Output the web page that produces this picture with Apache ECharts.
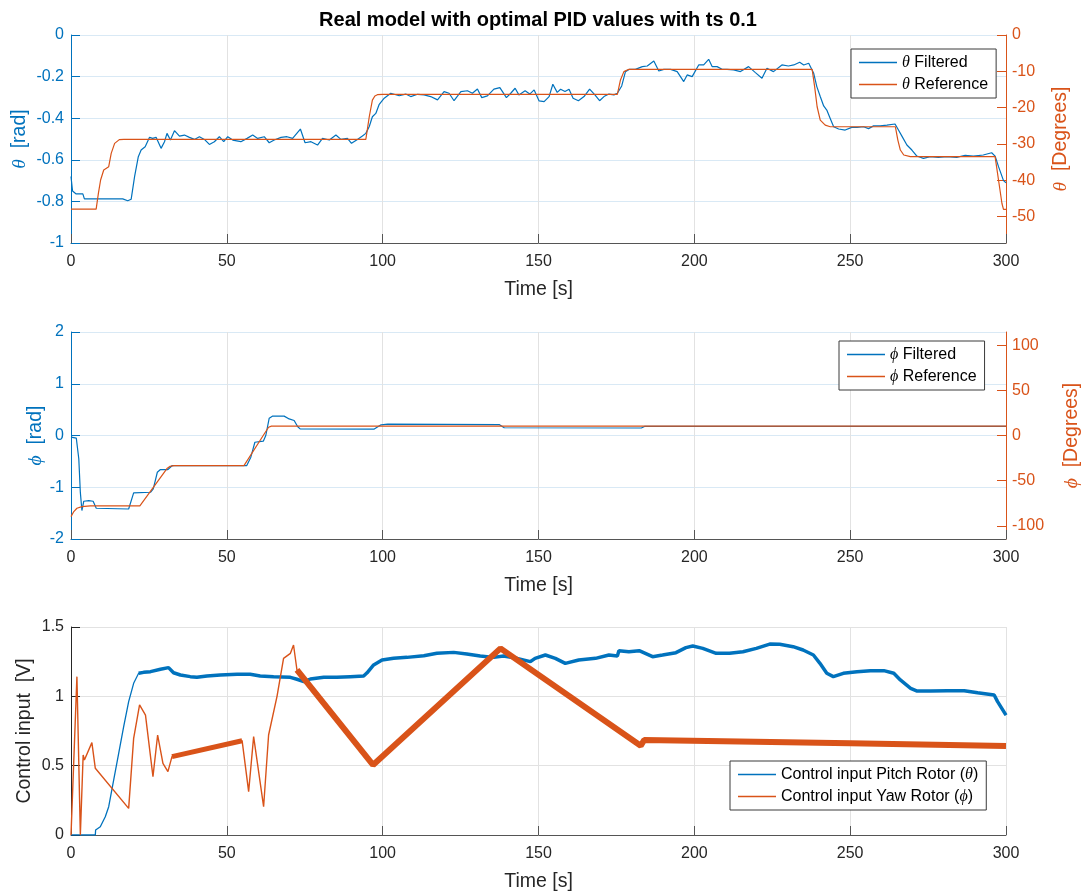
<!DOCTYPE html>
<html>
<head>
<meta charset="utf-8">
<script src="https://cdn.jsdelivr.net/npm/echarts@6/dist/echarts.min.js"></script>
<style>
html,body{margin:0;padding:0;background:#fff;}
#chart{width:1081px;height:893px;}
</style>
</head>
<body>
<div id="chart"></div>
<script>
// ---------------- DATA ----------------
const xTicks = [0, 50, 100, 150, 200, 250, 300];
const thetaDegTicks = [0, -10, -20, -30, -40, -50];
const phiDegTicks = [-100, -50, 0, 50, 100];

// Panel 1: theta [rad]
const thetaFiltT = [0, 0.5, 1.66, 3.8, 4.3, 16.6, 18.2, 19.3, 20.4, 21.6, 22.5, 23.8, 25.2, 26.2, 27.3, 28.9, 30.0, 30.8, 31.9, 33.2, 34.8, 36.4, 38.0, 39.6, 41.2, 42.8, 44.4, 46.0, 47.6, 49.0, 50.3, 51.9, 54.5, 56.5, 58.3, 59.9, 62.0, 63.6, 65.2, 67.4, 69.3, 71.1, 73.6, 75.1, 77.0, 79.1, 80.7, 82.9, 85.0, 86.6, 88.7, 90.0, 91.9, 93.5, 94.6, 95.7, 96.7, 97.8, 98.9, 100.5, 102.6, 105.3, 107.4, 109.0, 111.2, 113.3, 115.4, 117.6, 119.7, 121.3, 122.9, 125.1, 127.2, 128.8, 130.4, 131.8, 133.6, 135.7, 137.6, 139.7, 141.1, 142.5, 143.7, 145.7, 147.2, 148.6, 150.2, 151.8, 153.4, 154.6, 156.0, 157.1, 158.5, 159.8, 161.1, 162.8, 164.6, 166.4, 168.1, 169.6, 171.0, 172.6, 174.2, 175.3, 176.7, 177.9, 179.2, 181.1, 183.3, 184.9, 187.0, 188.6, 190.2, 192.4, 194.5, 196.6, 197.7, 199.3, 201.4, 203.0, 204.6, 205.7, 207.3, 208.9, 210.5, 212.6, 214.8, 217.4, 219.6, 221.7, 223.3, 225.4, 228.1, 230.2, 231.9, 233.8, 235.1, 236.7, 238.3, 239.3, 240.4, 241.5, 242.5, 243.6, 244.7, 246.3, 248.4, 250.5, 252.2, 254.3, 255.9, 257.5, 259.6, 261.8, 264.4, 265.5, 266.6, 268.2, 269.8, 271.4, 273.5, 275.7, 278.3, 281.0, 284.2, 286.9, 289.5, 292.7, 295.4, 296.5, 297.6, 299.2, 300];
const thetaFiltV = [-0.68, -0.75, -0.764, -0.764, -0.788, -0.788, -0.797, -0.79, -0.681, -0.585, -0.553, -0.537, -0.492, -0.497, -0.492, -0.545, -0.513, -0.473, -0.505, -0.46, -0.486, -0.481, -0.492, -0.502, -0.489, -0.502, -0.526, -0.513, -0.489, -0.513, -0.489, -0.505, -0.513, -0.497, -0.481, -0.497, -0.489, -0.518, -0.505, -0.492, -0.489, -0.497, -0.452, -0.518, -0.513, -0.529, -0.497, -0.505, -0.481, -0.502, -0.497, -0.521, -0.502, -0.486, -0.473, -0.44, -0.393, -0.377, -0.333, -0.304, -0.28, -0.292, -0.284, -0.296, -0.285, -0.288, -0.296, -0.312, -0.272, -0.28, -0.316, -0.272, -0.268, -0.28, -0.26, -0.301, -0.293, -0.26, -0.253, -0.301, -0.28, -0.256, -0.288, -0.268, -0.284, -0.264, -0.317, -0.32, -0.296, -0.237, -0.276, -0.261, -0.272, -0.261, -0.304, -0.316, -0.296, -0.26, -0.288, -0.316, -0.296, -0.284, -0.288, -0.28, -0.245, -0.176, -0.165, -0.165, -0.152, -0.149, -0.125, -0.173, -0.165, -0.165, -0.176, -0.224, -0.192, -0.2, -0.144, -0.144, -0.117, -0.152, -0.152, -0.165, -0.165, -0.168, -0.176, -0.152, -0.181, -0.208, -0.16, -0.176, -0.144, -0.149, -0.144, -0.131, -0.144, -0.136, -0.184, -0.248, -0.296, -0.341, -0.361, -0.401, -0.441, -0.452, -0.457, -0.444, -0.444, -0.441, -0.45, -0.437, -0.437, -0.433, -0.428, -0.457, -0.486, -0.529, -0.553, -0.582, -0.593, -0.585, -0.588, -0.585, -0.588, -0.578, -0.582, -0.577, -0.566, -0.582, -0.633, -0.7, -0.71];
const thetaRefT = [0, 8.07, 8.8, 9.5, 10.5, 12.1, 12.9, 14.0, 15.5, 17.0, 94.6, 95.7, 96.7, 97.5, 98.3, 100, 175.3, 176.3, 177.4, 179.0, 237.8, 238.6, 239.4, 240.4, 242.0, 243.6, 264.5, 265.3, 266.1, 267.2, 269.3, 296.5, 297.6, 298.7, 299.2, 300];
const thetaRefV = [-0.837, -0.837, -0.76, -0.697, -0.649, -0.633, -0.569, -0.521, -0.503, -0.502, -0.502, -0.393, -0.313, -0.293, -0.287, -0.285, -0.285, -0.216, -0.176, -0.165, -0.165, -0.248, -0.345, -0.409, -0.433, -0.441, -0.441, -0.505, -0.553, -0.577, -0.585, -0.585, -0.697, -0.81, -0.838, -0.838];

// Panel 2: phi [rad]
const phiFiltT = [0, 1.7, 2.5, 3.0, 3.5, 4.1, 5.7, 7.1, 8.1, 18.5, 20.1, 25.5, 26.4, 27.7, 28.7, 31.1, 32.5, 56.4, 57.7, 59.0, 61.7, 62.5, 63.6, 64.6, 68.4, 70.0, 71.6, 72.7, 73.5, 97.3, 99.5, 101.6, 137.5, 139.0, 183.0, 184.0, 300];
const phiFiltV = [-0.03, -0.05, -0.45, -1.1, -1.45, -1.27, -1.26, -1.27, -1.406, -1.42, -1.11, -1.097, -1.03, -0.71, -0.658, -0.658, -0.581, -0.581, -0.419, -0.13, -0.11, 0.0, 0.335, 0.374, 0.374, 0.32, 0.29, 0.174, 0.129, 0.125, 0.206, 0.22, 0.21, 0.15, 0.145, 0.175, 0.175];
const phiRefT = [0, 0.9, 1.9, 3.5, 6.2, 22.1, 30.9, 31.8, 33.0, 55.5, 62.5, 63.4, 64.3, 300];
const phiRefV = [-1.568, -1.47, -1.406, -1.374, -1.361, -1.361, -0.632, -0.595, -0.581, -0.581, 0.077, 0.16, 0.181, 0.181];

// Panel 3: control inputs [V]
const pitchT = [0, 7.8, 7.9, 9.4, 11.0, 12.1, 13.7, 15.3, 16.9, 18.5, 20.1, 21.7, 23.3, 25.5, 28.7, 31.3, 32.9, 35.1, 38.3, 40.4, 43.6, 47.9, 53.3, 57.5, 60.7, 65.0, 70.4, 72.5, 74.7, 76.8, 81.1, 85.3, 89.6, 93.9, 95.0, 97.1, 99.8, 103.5, 107.8, 113.2, 117.4, 122.8, 127.0, 131.3, 135.6, 138.8, 143.1, 147.4, 148.9, 152.2, 155.4, 158.6, 162.9, 168.3, 172.6, 175.3, 175.8, 179.0, 182.3, 186.6, 189.8, 194.1, 197.3, 199.5, 202.7, 207.0, 211.3, 215.6, 219.9, 224.2, 227.4, 231.7, 234.9, 238.2, 240.3, 242.5, 244.6, 247.8, 252.2, 256.5, 260.8, 264.0, 266.1, 269.4, 271.5, 275.8, 281.2, 286.6, 290.9, 296.2, 297.3, 300];
const pitchV = [0, 0, 0.036, 0.06, 0.132, 0.204, 0.397, 0.589, 0.781, 0.962, 1.094, 1.166, 1.173, 1.178, 1.195, 1.207, 1.17, 1.154, 1.142, 1.137, 1.147, 1.154, 1.159, 1.159, 1.147, 1.142, 1.137, 1.123, 1.106, 1.125, 1.137, 1.137, 1.142, 1.147, 1.17, 1.226, 1.262, 1.274, 1.281, 1.293, 1.31, 1.317, 1.305, 1.291, 1.281, 1.291, 1.274, 1.25, 1.274, 1.298, 1.274, 1.238, 1.262, 1.274, 1.298, 1.291, 1.329, 1.322, 1.329, 1.286, 1.298, 1.315, 1.351, 1.363, 1.346, 1.31, 1.31, 1.322, 1.346, 1.377, 1.375, 1.358, 1.334, 1.298, 1.238, 1.166, 1.142, 1.166, 1.178, 1.185, 1.185, 1.166, 1.118, 1.058, 1.038, 1.038, 1.041, 1.041, 1.026, 1.01, 0.962, 0.865];
const yawT = [0, 0.3, 1.9, 3.0, 3.4, 3.9, 4.3, 6.7, 7.8, 18.5, 20.1, 22.0, 23.9, 26.3, 27.8, 29.5, 31.1, 32.4, 54.9, 55.4, 57.0, 58.6, 61.8, 63.4, 66.1, 68.2, 70.4, 71.4, 72.5, 96.9, 137.8, 182.8, 183.9, 250.0, 300];
const yawV = [0, 0, 1.142, 0, 0, 0.577, 0.541, 0.666, 0.481, 0.192, 0.697, 0.938, 0.865, 0.421, 0.721, 0.517, 0.457, 0.565, 0.68, 0.685, 0.313, 0.709, 0.204, 0.721, 1.0, 1.274, 1.31, 1.37, 1.19, 0.505, 1.346, 0.644, 0.685, 0.661, 0.642];

// ---------------- STYLE / BUILD ----------------
const BLUE = '#0072BD', ORANGE = '#D95319', DARK = '#262626';
const FONT = '"Liberation Sans", Arial, Helvetica, sans-serif';
const SERIF = '"Liberation Serif", "DejaVu Serif", serif';
const pairs = (T, V) => T.map((t, i) => [t, V[i]]);
const within = (T, V, a, b) => pairs(T, V).filter(p => p[0] >= a && p[0] <= b);
const greek = s => s.replace(/([θϕ])/g, '{i|$1}');
const RAD2DEG = 180 / Math.PI;

const grids = [
  {left: 71, width: 935, top: 35, height: 208, outerBoundsMode: 'none', containLabel: false},
  {left: 71, width: 935, top: 332, height: 207, outerBoundsMode: 'none', containLabel: false},
  {left: 71, width: 935, top: 627, height: 208, outerBoundsMode: 'none', containLabel: false}
];

function xAxis(gi) {
  return {
    type: 'value', gridIndex: gi, min: 0, max: 300, interval: 50,
    name: 'Time [s]', nameLocation: 'middle', nameGap: 37, nameMoveOverlap: false,
    nameTextStyle: {fontFamily: FONT, fontSize: 19.5, color: DARK},
    axisLine: {show: true, onZero: false, lineStyle: {color: '#555', width: 1}},
    axisTick: {show: true, inside: true, length: 9, lineStyle: {color: '#555'}},
    axisLabel: {fontFamily: FONT, fontSize: 16, color: DARK, margin: 11},
    splitLine: {show: true, lineStyle: {color: '#e2e2e2', width: 1}}
  };
}
function nameRich(color, size) {
  return {fontFamily: FONT, fontSize: size, color: color,
    rich: {i: {fontFamily: SERIF, fontStyle: 'italic', fontSize: size, color: color}}};
}
function leftAxis(gi, min, max, interval, name, color, gap, gridColor) {
  return {
    type: 'value', gridIndex: gi, position: 'left', min: min, max: max, interval: interval,
    name: greek(name), nameLocation: 'middle', nameGap: gap, nameRotate: 90, nameMoveOverlap: false,
    nameTextStyle: nameRich(color, 19.5),
    axisLine: {show: true, onZero: false, lineStyle: {color: color, width: 1}},
    axisTick: {show: true, inside: true, length: 9, lineStyle: {color: color}},
    axisLabel: {fontFamily: FONT, fontSize: 16, color: color, margin: 7},
    splitLine: {show: true, lineStyle: {color: gridColor, width: 1}}
  };
}
function rightAxis(gi, min, max, ticks, name, gap) {
  return {
    type: 'value', gridIndex: gi, position: 'right', min: min, max: max,
    name: greek(name), nameLocation: 'middle', nameGap: gap, nameRotate: 90, nameMoveOverlap: false,
    nameTextStyle: nameRich(ORANGE, 19.5),
    axisLine: {show: true, onZero: false, lineStyle: {color: ORANGE, width: 1}},
    axisTick: {show: true, inside: true, length: 9, lineStyle: {color: ORANGE}, customValues: ticks},
    axisLabel: {fontFamily: FONT, fontSize: 16, color: ORANGE, margin: 6, customValues: ticks},
    splitLine: {show: false}
  };
}
function line(name, xi, yi, data, color, width, z) {
  return {type: 'line', name: name, xAxisIndex: xi, yAxisIndex: yi, data: data,
    showSymbol: false, symbol: 'none', animation: false, z: z || 2,
    lineStyle: {color: color, width: width}, itemStyle: {color: color}};
}
function legend(names, left, top) {
  return {
    data: names, left: left, top: top, orient: 'vertical',
    backgroundColor: '#fff', borderColor: '#3a3a3a', borderWidth: 1,
    padding: [3, 8, 3, 8], itemGap: 1, itemWidth: 38, itemHeight: 1.4,
    icon: 'rect',
    formatter: n => greek(n),
    textStyle: {fontFamily: FONT, fontSize: 16, color: '#000', lineHeight: 21,
      rich: {i: {fontFamily: SERIF, fontStyle: 'italic', fontSize: 16, color: '#000', lineHeight: 21}}}
  };
}

const N1 = 'θ Filtered', N2 = 'θ Reference', N3 = 'ϕ Filtered', N4 = 'ϕ Reference';
const N5 = 'Control input Pitch Rotor (θ)', N6 = 'Control input Yaw Rotor (ϕ)';

const option = {
  backgroundColor: '#fff',
  animation: false,
  title: {text: 'Real model with optimal PID values with ts 0.1', left: 533, top: 5, textAlign: 'center',
    textStyle: {fontFamily: FONT, fontSize: 20, fontWeight: 'bold', color: '#000'}},
  grid: grids,
  xAxis: [xAxis(0), xAxis(1), xAxis(2)],
  yAxis: [
    leftAxis(0, -1, 0, 0.2, 'θ  [rad]', BLUE, 41, '#d9e9f5'),
    rightAxis(0, -RAD2DEG, 0, thetaDegTicks, 'θ  [Degrees]', 45),
    leftAxis(1, -2, 2, 1, 'ϕ  [rad]', BLUE, 25, '#d9e9f5'),
    rightAxis(1, -2 * RAD2DEG, 2 * RAD2DEG, phiDegTicks, 'ϕ  [Degrees]', 56),
    leftAxis(2, 0, 1.5, 0.5, 'Control input  [V]', DARK, 36, '#e2e2e2')
  ],
  legend: [
    legend([N1, N2], 851, 49),
    legend([N3, N4], 839, 341),
    legend([N5, N6], 730, 761)
  ],
  series: [
    line(N1, 0, 0, pairs(thetaFiltT, thetaFiltV), BLUE, 1.2),
    line(N2, 0, 0, pairs(thetaRefT, thetaRefV), ORANGE, 1.2),
    line(N3, 1, 2, pairs(phiFiltT, phiFiltV), BLUE, 1.2),
    line(N4, 1, 2, pairs(phiRefT, phiRefV), ORANGE, 1.2),
    line(N5, 2, 4, pairs(pitchT, pitchV), BLUE, 1.3),
    line(N5, 2, 4, within(pitchT, pitchV, 21.7, 300), BLUE, 3.5),
    line(N6, 2, 4, pairs(yawT, yawV), ORANGE, 1.4, 3),
    line(N6, 2, 4, within(yawT, yawV, 32.4, 54.9), ORANGE, 5, 3),
    line(N6, 2, 4, within(yawT, yawV, 72.5, 300), ORANGE, 6, 3)
  ]
};

const chart = echarts.init(document.getElementById('chart'), null, {renderer: 'canvas'});
chart.setOption(option);
</script>
</body>
</html>
